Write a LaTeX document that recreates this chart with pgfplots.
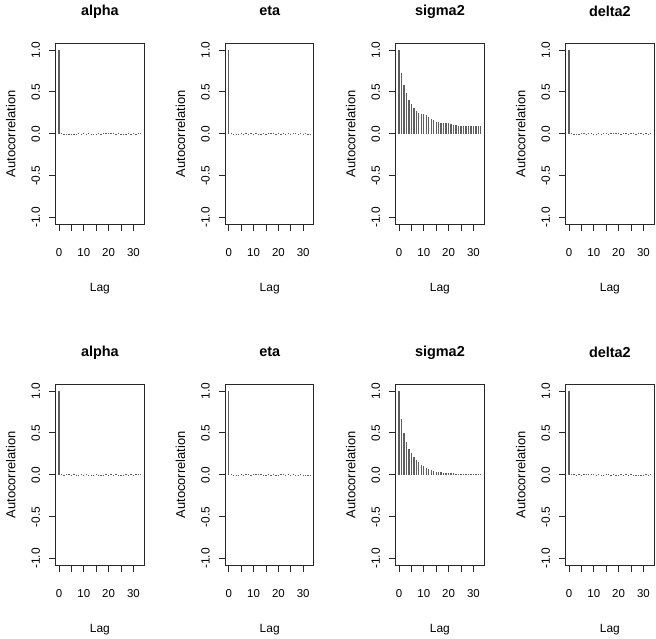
\documentclass[border=0pt]{standalone}
\usepackage{fontspec}
\setmainfont{Liberation Sans}
\usepackage{pgfplots}
\usepackage{pgfplotstable}
\pgfplotsset{compat=1.18}

% Sample autocorrelations, lags 0..33, for the two chains (1 = top row, 2 = bottom row)
\pgfplotstableread{
lag a1     e1     s1    d1     a2     e2     s2    d2
0   1      1      1     1      1      1      1     1
1   0.006  0.004  0.730 0.005  0.004  0.006  0.670 0.007
2  -0.008 -0.006  0.578 -0.004 -0.006  0.003  0.498 0.004
3  -0.004  0.002  0.486 0.003  0.008 -0.004  0.386 -0.003
4   0.002 -0.005  0.405 -0.006 0.005  0.002  0.310 0.006
5  -0.005  0.006  0.353 0.004 -0.004  0.005  0.263 -0.005
6   0.003 -0.003  0.313 0.010  0.006 -0.006  0.217 0.008
7  -0.006  0.005  0.273 -0.003 0.003  0.004  0.181 0.004
8   0.004  0.002  0.253 0.006 -0.005  0.007  0.149 0.010
9  -0.003  0.007 0.241  0.004  0.004 -0.003  0.122 0.008
10  0.005 -0.004  0.233 -0.005 -0.003 0.005  0.100 0.006
11 -0.002  0.006  0.221 0.003  0.006  0.004  0.084 -0.004
12  0.004 -0.007  0.201 0.005 -0.006  0.008  0.070 0.005
13 -0.007 -0.009  0.177 -0.004 0.003  0.006  0.058 0.003
14  0.003  0.004  0.161 0.006 -0.008 -0.004  0.046 -0.006
15 -0.004 -0.006  0.145 0.004  0.004  0.003  0.038 0.004
16  0.006  0.005  0.137 -0.003 -0.005 0.005  0.032 0.005
17 -0.002  0.008  0.133 0.005  0.003 -0.006  0.028 -0.003
18  0.008  0.004  0.129 0.008 -0.003  0.004  0.025 0.004
19  0.010 -0.005  0.129 0.004  0.006  0.003  0.023 -0.005
20  0.012  0.006  0.125 0.006 -0.004 -0.005  0.021 0.003
21  0.009  0.003  0.116 -0.004 0.005  0.004  0.019 0.004
22  0.007  0.009  0.108 0.007 -0.003  0.006  0.017 -0.004
23 -0.003 -0.004  0.100 0.005  0.004 -0.003  0.015 0.005
24  0.004  0.006  0.092 -0.003 -0.006 0.005  0.014 -0.003
25 -0.006 -0.008  0.092 0.006  0.003 -0.004  0.013 0.004
26  0.002  0.004  0.092 0.004 -0.007  0.004  0.012 -0.005
27 -0.004  0.005  0.090 -0.005 0.004 -0.006  0.011 0.003
28  0.005 -0.004  0.088 0.006 -0.004  0.003  0.010 -0.004
29 -0.003  0.007  0.088 0.004  0.005  0.004  0.010 0.003
30  0.006 -0.005  0.092 -0.004 0.003 -0.005  0.011 -0.004
31 -0.008  0.004  0.092 0.005  0.006  0.003  0.010 0.004
32  0.004 -0.006  0.088 0.003  0.004 -0.004  0.009 -0.003
33  0.007 -0.009  0.088 0.004  0.008  0.003  0.011 0.004
}\acf

\definecolor{barcol}{RGB}{95,95,95}
\definecolor{framecol}{RGB}{40,40,40}

\pgfplotsset{
  acfpanel/.style={
    scale only axis, width=88.4bp, height=181bp,
    xmin=-1.32, xmax=34.32, ymin=-1.08, ymax=1.08,
    axis line style={line width=1.1bp, framecol},
    tick style={line width=0.9bp, framecol},
    tick align=outside, major tick length=7bp,
    xtick pos=bottom, ytick pos=left,
    xtick={0,5,...,30}, xticklabels={0,,10,,20,,30},
    ytick={-1,-0.5,0,0.5,1}, yticklabels={-1.0,-0.5,0.0,0.5,1.0},
    /pgf/number format/assume math mode=true,
    xticklabel style={font=\fontsize{11.5}{12}\selectfont, anchor=center, yshift=-21.5bp},
    yticklabel style={font=\fontsize{12}{13}\selectfont, xshift=-13bp, rotate=90, anchor=center},
    xlabel={Lag}, ylabel={Autocorrelation},
    every axis x label/.style={at={(axis description cs:0.5,0)}, yshift=-64bp, anchor=center,
      font=\fontsize{12}{13}\selectfont},
    every axis y label/.style={at={(axis description cs:0,0.5)}, xshift=-45bp, rotate=90, anchor=center,
      font=\fontsize{13}{14}\selectfont},
    every axis title/.style={at={(axis description cs:0.5,1)}, yshift=32bp, anchor=center,
      font=\fontsize{14.5}{16}\selectfont\bfseries},
  },
  acfbar/.style={ycomb, no markers, barcol, line width=1.3bp},
}

\newcommand\acfpanel[4]{%
  \begin{axis}[acfpanel, at={(#1bp,-#2bp)}, anchor=north west, title={#3}]
    \addplot[acfbar] table[x=lag, y=#4] {\acf};
  \end{axis}}

\begin{document}
\begin{tikzpicture}
  \useasboundingbox (0,0) rectangle (656bp,-639bp);
  \acfpanel{55.7}{43.3}{alpha}{a1}
  \acfpanel{225.5}{43.3}{eta}{e1}
  \acfpanel{395.7}{43.3}{sigma2}{s1}
  \acfpanel{565.7}{43.3}{delta2}{d1}
  \acfpanel{55.7}{384.3}{alpha}{a2}
  \acfpanel{225.5}{384.3}{eta}{e2}
  \acfpanel{395.7}{384.3}{sigma2}{s2}
  \acfpanel{565.7}{384.3}{delta2}{d2}
\end{tikzpicture}
\end{document}
